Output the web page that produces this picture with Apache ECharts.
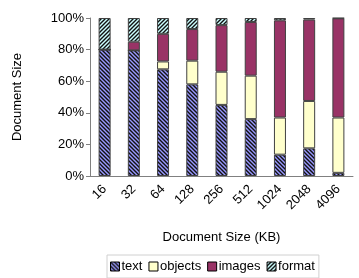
<!DOCTYPE html>
<html><head><meta charset="utf-8">
<script src="https://cdn.jsdelivr.net/npm/echarts@6/dist/echarts.min.js"></script>
<style>html,body{margin:0;padding:0;background:#fff}#c{width:359px;height:278px}</style>
</head><body><div id="c"></div>
<script>
var categories = ['16','32','64','128','256','512','1024','2048','4096'];
var textVals    = [80, 79.5, 67.5, 58, 45, 36, 13.5, 17.5, 2];
var objectVals  = [0, 0, 5, 15, 21, 27.5, 23.5, 30, 35];
var imageVals   = [0, 5.5, 17.5, 20, 29.5, 34, 61.5, 51.5, 62.8];
var formatVals  = [20, 15, 10, 7, 4.5, 2.5, 1.5, 1, 0.2];
var yTicks = [0, 20, 40, 60, 80, 100];

function hatch(bg, dir) {
  var c = document.createElement('canvas');
  c.width = 4; c.height = 4;
  var g = c.getContext('2d');
  g.fillStyle = bg; g.fillRect(0, 0, 4, 4);
  g.strokeStyle = '#111'; g.lineWidth = 1.4;
  g.beginPath();
  if (dir === 'back') {
    g.moveTo(-1, -1); g.lineTo(5, 5);
    g.moveTo(-1, 3); g.lineTo(1, 5);
    g.moveTo(3, -1); g.lineTo(5, 1);
  } else {
    g.moveTo(-1, 5); g.lineTo(5, -1);
    g.moveTo(-1, 1); g.lineTo(1, -1);
    g.moveTo(3, 5); g.lineTo(5, 3);
  }
  g.stroke();
  return { image: c, repeat: 'repeat' };
}

var font = 'Liberation Sans, Arial, sans-serif';
var chart = echarts.init(document.getElementById('c'), null, {renderer: 'canvas'});
function ser(name, data, color) {
  return {
    name: name, type: 'bar', stack: 'all', data: data, barWidth: 12,
    itemStyle: { color: color, borderColor: '#404040', borderWidth: 1 },
    emphasis: { disabled: true }
  };
}
chart.setOption({
  animation: false,
  textStyle: { fontFamily: font },
  grid: { left: 90, right: 6, top: 18, bottom: 102 },
  legend: {
    bottom: 0, left: 107, itemWidth: 9, itemHeight: 9, itemGap: 6, icon: 'rect',
    padding: [5, 4, 5, 3], borderColor: '#d0d0d0', borderWidth: 1,
    textStyle: { fontSize: 13, color: '#000', fontFamily: font, padding: [0, 0, 0, -3] },
    data: ['text', 'objects', 'images', 'format'].map(function (n) {
      return { name: n, itemStyle: { borderColor: '#000', borderWidth: 1 } };
    })
  },
  xAxis: {
    type: 'category', data: categories,
    name: 'Document Size (KB)', nameLocation: 'middle', nameGap: 55, nameMoveOverlap: false,
    nameTextStyle: { fontSize: 13, color: '#000', fontFamily: font },
    axisLine: { lineStyle: { color: '#808080' } },
    axisTick: { length: 4, lineStyle: { color: '#808080' } },
    axisLabel: { rotate: 45, fontSize: 13, color: '#000', margin: 11, fontFamily: font, padding: [0, 0, 0, 0] }
  },
  yAxis: {
    type: 'value', min: yTicks[0], max: yTicks[yTicks.length - 1], interval: 20,
    name: 'Document Size', nameLocation: 'middle', nameGap: 66, nameMoveOverlap: false,
    nameTextStyle: { fontSize: 13, color: '#000', fontFamily: font },
    axisLine: { show: true, lineStyle: { color: '#808080' } },
    axisTick: { show: true, length: 4, lineStyle: { color: '#808080' } },
    splitLine: { show: false },
    axisLabel: { formatter: '{value}%', fontSize: 13, color: '#000', margin: 6, fontFamily: font }
  },
  series: [
    ser('text', textVals, hatch('#9999FF', 'back')),
    ser('objects', objectVals, '#FFFFCC'),
    ser('images', imageVals, '#993366'),
    ser('format', formatVals, hatch('#CCFFFF', 'fwd'))
  ]
});
</script></body></html>
